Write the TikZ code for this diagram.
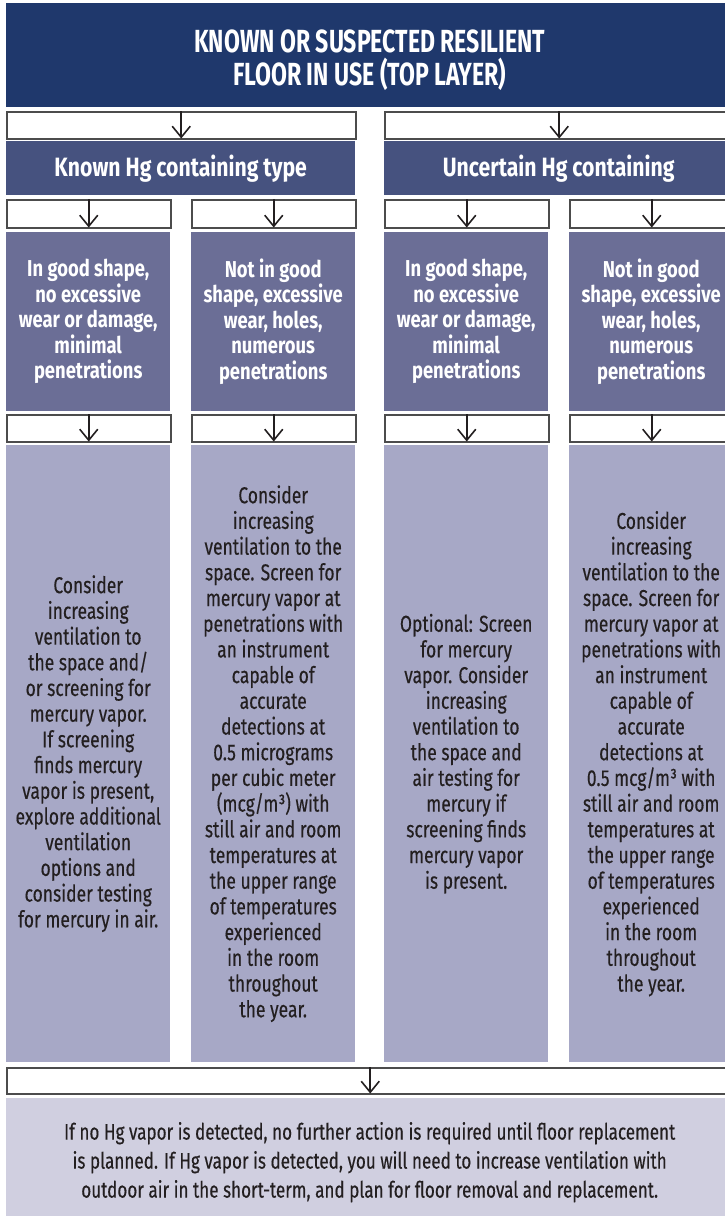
\documentclass[tikz,border=0pt]{standalone}
\usepackage{fontspec}
\setmainfont[FakeStretch=0.76,FakeBold=0.3]{Fira Sans}
\newfontfamily\titlefont[FakeStretch=0.72]{Fira Sans}
\newfontfamily\labelfont[FakeStretch=0.8]{Fira Sans}
\usepackage{tikz}
\usetikzlibrary{positioning,arrows.meta}

\definecolor{navy}{HTML}{1F386C}
\definecolor{slate}{HTML}{46527F}
\definecolor{dusk}{HTML}{6B6E96}
\definecolor{lilac}{HTML}{A7A8C6}
\definecolor{mist}{HTML}{D0CFE0}
\definecolor{ink}{HTML}{231F20}

\begin{document}
\begin{tikzpicture}[x=1pt,y=-1pt,
    block/.style={rectangle,anchor=north west,inner sep=0pt,align=center},
    pipe/.style={block,draw=black!70,line width=1.5pt,fill=white},
    flow/.style={draw=ink,line width=1.6pt,-{Straight Barb[length=11pt,width=18pt]},shorten >=1pt},
    darkbox/.style={block,text=white,font=\labelfont\bfseries\fontsize{23}{25.5}\selectfont},
    lightbox/.style={block,fill=lilac,text=ink,font=\fontsize{23}{25.7}\selectfont}]
  \def\colw{164} % width of one column
  \def\halfw{349} % width of half the chart
  \def\fullw{727}
  \useasboundingbox (0,0) rectangle (725,1216);

  % title bar
  \node[block,fill=navy,text=white,minimum width=\fullw,minimum height=104,
        font=\titlefont\bfseries\fontsize{32}{33}\selectfont] (top) at (6,3)
        {\raisebox{-5pt}[\height][\depth]{KNOWN OR SUSPECTED RESILIENT}\\
         \raisebox{-5pt}[\height][\depth]{FLOOR IN USE (TOP LAYER)}};

  % first split
  \node[pipe,minimum width=\halfw,minimum height=27] (p1) at (6,111) {};
  \node[pipe,minimum width=\halfw,minimum height=27] (p2) at (384,111) {};
  \foreach \n in {p1,p2}
    \draw[flow] (\n.north) -- (\n.south);

  \node[darkbox,fill=slate,minimum width=\halfw,minimum height=54,
        font=\labelfont\bfseries\fontsize{26.5}{28}\selectfont] (known) at (6,141)
        {Known Hg containing type};
  \node[darkbox,fill=slate,minimum width=\halfw,minimum height=54,
        font=\labelfont\bfseries\fontsize{26.5}{28}\selectfont] (uncertain) at (384,141)
        {Uncertain Hg containing};

  % condition of the floor
  \def\goodtext{In good shape,\\no excessive\\wear or damage,\\minimal\\penetrations}
  \def\poortext{Not in good\\shape, excessive\\wear, holes,\\numerous\\penetrations}
  \foreach \i/\x/\t in {1/6/\goodtext,2/191/\poortext,3/384/\goodtext,4/569/\poortext} {
    \node[pipe,minimum width=\colw,minimum height=28] (q\i) at (\x,199) {};
    \draw[flow] (q\i.north) -- (q\i.south);
    \node[darkbox,fill=dusk,minimum width=\colw,minimum height=179] (cond\i) at (\x,232) {\t};
    \node[pipe,minimum width=\colw,minimum height=27] (r\i) at (\x,414) {};
    \draw[flow] (r\i.north) -- (r\i.south);
  }

  % what to do
  \node[lightbox,minimum width=\colw,minimum height=617] (act1) at (6,445)
    {Consider\\increasing\\ventilation to\\the space and/\\or screening for\\mercury vapor.\\If screening\\finds mercury\\vapor is present,\\explore additional\\ventilation\\options and\\consider testing\\for mercury in air.};
  \node[lightbox,minimum width=\colw,minimum height=617] (act2) at (191,445)
    {Consider\\increasing\\ventilation to the\\space. Screen for\\mercury vapor at\\penetrations with\\an instrument\\capable of\\accurate\\detections at\\0.5 micrograms\\per cubic meter\\(mcg/m³) with\\still air and room\\temperatures at\\the upper range\\of temperatures\\experienced\\in the room\\throughout\\the year.};
  \node[lightbox,minimum width=\colw,minimum height=617] (act3) at (384,445)
    {Optional: Screen\\for mercury\\vapor. Consider\\increasing\\ventilation to\\the space and\\air testing for\\mercury if\\screening finds\\mercury vapor\\is present.};
  \node[lightbox,minimum width=\colw,minimum height=617] (act4) at (569,445)
    {Consider\\increasing\\ventilation to the\\space. Screen for\\mercury vapor at\\penetrations with\\an instrument\\capable of\\accurate\\detections at\\0.5 mcg/m³ with\\still air and room\\temperatures at\\the upper range\\of temperatures\\experienced\\in the room\\throughout\\the year.};

  % outcome
  \node[pipe,minimum width=\fullw,minimum height=26] (s) at (6,1067) {};
  \draw[flow] (s.north) -- (s.south);
  \node[block,fill=mist,text=ink,minimum width=\fullw,minimum height=128,
        font=\fontsize{22.5}{29}\selectfont] (result) at (6,1098)
    {If no Hg vapor is detected, no further action is required until floor replacement\\is planned. If Hg vapor is detected, you will need to increase ventilation with\\outdoor air in the short-term, and plan for floor removal and replacement.};
\end{tikzpicture}
\end{document}
